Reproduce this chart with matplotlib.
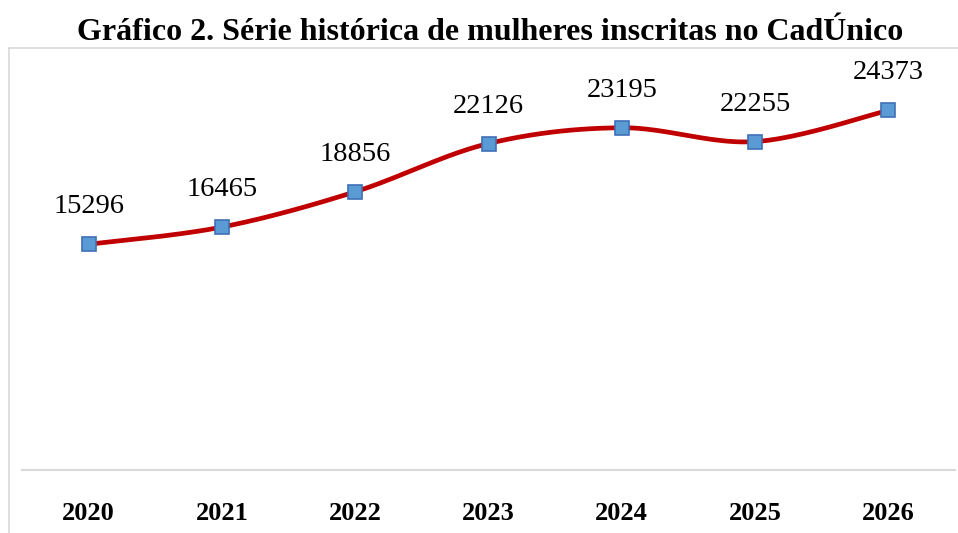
import numpy as np
import matplotlib.pyplot as plt
from matplotlib.lines import Line2D

anos = ['2020', '2021', '2022', '2023', '2024', '2025', '2026']
mulheres = [15296, 16465, 18856, 22126, 23195, 22255, 24373]


def curva_suave(xs, ys, n=40):
    # curva tipo "linha suavizada" do Excel (Catmull-Rom -> Bezier)
    px = np.r_[xs[0], xs, xs[-1]]
    py = np.r_[ys[0], ys, ys[-1]]
    t = np.linspace(0, 1, n)
    cx, cy = [], []
    for i in range(1, len(xs)):
        p0 = np.array([px[i], py[i]])
        p3 = np.array([px[i + 1], py[i + 1]])
        p1 = p0 + (p3 - np.array([px[i - 1], py[i - 1]])) / 6
        p2 = p3 - (np.array([px[i + 2], py[i + 2]]) - p0) / 6
        b = ((1 - t) ** 3)[:, None] * p0 + (3 * (1 - t) ** 2 * t)[:, None] * p1 \
            + (3 * (1 - t) * t ** 2)[:, None] * p2 + (t ** 3)[:, None] * p3
        cx.extend(b[:, 0])
        cy.extend(b[:, 1])
    return np.array(cx), np.array(cy)


fig = plt.figure(figsize=(9.58, 5.33), dpi=100)
ax = fig.add_axes([22 / 958, 63 / 533, 933 / 958, 422 / 533])

x = np.arange(len(anos))
sx, sy = curva_suave(x, np.array(mulheres, dtype=float))
ax.plot(sx, sy, color='#C00000', lw=3.4, solid_capstyle='round', zorder=2)
ax.plot(x, mulheres, ls='none', marker='s', ms=10.5, mfc='#5B9BD5',
        mec='#3F70B5', mew=1.2, zorder=3)

for xi, v in zip(x, mulheres):
    ax.annotate(str(v), (xi, v), xytext=(0, 27), textcoords='offset points',
                ha='center', va='center', fontsize=20.5, family='Liberation Serif')

ax.set_xlim(-0.5, 6.5)
ax.set_ylim(0, 28600)
ax.set_yticks([])
ax.set_xticks(x)
ax.set_xticklabels(anos, fontsize=19, fontweight='bold', family='Liberation Serif')
ax.tick_params(axis='x', length=0, pad=23)
for s in ['top', 'right', 'left']:
    ax.spines[s].set_visible(False)
ax.spines['bottom'].set_color('#D9D9D9')
ax.spines['bottom'].set_linewidth(1.5)

# moldura da área do gráfico
fig.add_artist(Line2D([9 / 958, 9 / 958], [0, 485 / 533], color='#D9D9D9', lw=1.2))
fig.add_artist(Line2D([9 / 958, 1], [485 / 533, 485 / 533], color='#D9D9D9', lw=1.2))

fig.text(490 / 958, 500 / 533, 'Gráfico 2. Série histórica de mulheres inscritas no CadÚnico',
         ha='center', va='center', fontsize=23, fontweight='bold', family='Liberation Serif')

fig.savefig('out.png', dpi=100)
